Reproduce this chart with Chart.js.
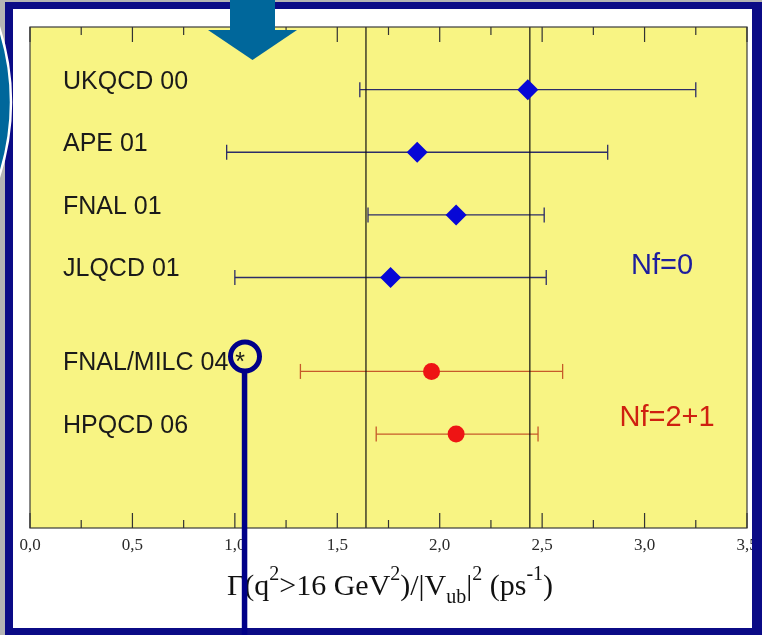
<!DOCTYPE html>
<html><head><meta charset="utf-8">
<script src="https://cdn.jsdelivr.net/npm/chart.js@4.4.1/dist/chart.umd.min.js"></script>
<style>html,body{margin:0;padding:0;background:#fff;overflow:hidden}canvas{display:block}</style>
</head><body>
<canvas id="c" width="762" height="635"></canvas>
<script>
// ---- data ----
const studies  = ['UKQCD 00', 'APE 01', 'FNAL 01', 'JLQCD 01', 'FNAL/MILC 04 *', 'HPQCD 06'];
const rowPos   = [7, 6, 5, 4, 2.5, 1.5];
const central  = [2.43, 1.89, 2.08, 1.76, 1.96, 2.08];
const lower    = [1.61, 0.96, 1.65, 1.00, 1.32, 1.69];
const upper    = [3.25, 2.82, 2.51, 2.52, 2.60, 2.48];
const flavour  = ['0', '0', '0', '0', '2+1', '2+1'];
const refLines = [1.64, 2.44];
const groupLabels = ['Nf=0', 'Nf=2+1'];
const xTickStep = 0.5, xMinorStep = 0.25, xMin = 0, xMax = 3.5, yMin = 0, yMax = 8;

// ---- styles ----
const COL = {
  '0':   {mark: '#0707d6', bar: '#2c2c68', text: '#1d1d9e', style: 'rectRot', r: 10.5},
  '2+1': {mark: '#ee1414', bar: '#c65a2a', text: '#cf2010', style: 'circle', r: 8.5}
};

const datasets = [];
['0', '2+1'].forEach(g => {
  const pts = [];
  central.forEach((v, i) => { if (flavour[i] === g) pts.push({x: v, y: rowPos[i]}); });
  datasets.push({
    label: 'Nf=' + g, data: pts, order: 0,
    pointStyle: COL[g].style, pointRadius: COL[g].r, pointHoverRadius: COL[g].r,
    backgroundColor: COL[g].mark, borderColor: COL[g].mark, pointBorderWidth: 0
  });
});
studies.forEach((s, i) => {
  const c = COL[flavour[i]].bar;
  datasets.push({
    label: s + ' err', order: 2, showLine: true,
    data: [{x: lower[i], y: rowPos[i]}, {x: upper[i], y: rowPos[i]}],
    borderColor: c, borderWidth: 1.3,
    pointStyle: 'line', rotation: 90, pointRadius: 7.5, pointHoverRadius: 7.5,
    pointBorderColor: c, pointBorderWidth: 1.3, backgroundColor: c
  });
});
refLines.forEach(v => {
  datasets.push({
    label: 'ref ' + v, order: 1, showLine: true,
    data: [{x: v, y: yMin}, {x: v, y: yMax}],
    borderColor: '#111', borderWidth: 1.2, pointRadius: 0, pointHoverRadius: 0
  });
});

const deco = {
  id: 'deco',
  beforeDraw(chart) {
    const {ctx, chartArea: a} = chart;
    ctx.save();
    ctx.fillStyle = '#b4b4b4'; ctx.fillRect(0, 0, 762, 635);
    ctx.fillStyle = '#ffffff'; ctx.fillRect(13, 9, 739, 619);
    ctx.fillStyle = '#f8f483'; ctx.fillRect(a.left, a.top, a.right - a.left, a.bottom - a.top);
    ctx.restore();
  },
  afterDatasetsDraw(chart) {
    const {ctx, chartArea: a, scales: {x, y}} = chart;
    ctx.save();
    ctx.strokeStyle = '#3a3a3a'; ctx.lineWidth = 1.2;
    ctx.strokeRect(a.left, a.top, a.right - a.left, a.bottom - a.top);
    ctx.lineWidth = 1.2; ctx.strokeStyle = '#333';
    const n = Math.round((xMax - xMin) / xMinorStep);
    for (let k = 0; k <= n; k++) {
      const v = xMin + k * xMinorStep;
      const px = x.getPixelForValue(v);
      const major = Math.abs(v / xTickStep - Math.round(v / xTickStep)) < 1e-6;
      const L = major ? 15 : 8;
      ctx.beginPath();
      ctx.moveTo(px, a.bottom); ctx.lineTo(px, a.bottom - L);
      ctx.moveTo(px, a.top); ctx.lineTo(px, a.top + L);
      ctx.stroke();
    }
    ctx.font = '29px "Liberation Sans", Arial, sans-serif';
    ctx.textAlign = 'center'; ctx.textBaseline = 'middle';
    ctx.fillStyle = COL['0'].text;
    ctx.fillText(groupLabels[0], x.getPixelForValue(3.085), y.getPixelForValue(4.18));
    ctx.fillStyle = COL['2+1'].text;
    ctx.fillText(groupLabels[1], x.getPixelForValue(3.11), y.getPixelForValue(1.76));
    ctx.restore();
  },
  afterDraw(chart) {
    const {ctx} = chart;
    ctx.save();
    const big = '30px "Liberation Serif", "Times New Roman", serif';
    const small = '20px "Liberation Serif", "Times New Roman", serif';
    const parts = [
      ['Γ(q', 0], ['2', -1], ['>16 GeV', 0], ['2', -1], [')/|V', 0], ['ub', 1],
      ['|', 0], ['2', -1], [' (ps', 0], ['-1', -1], [')', 0]
    ];
    let total = 0;
    parts.forEach(p => { ctx.font = p[1] ? small : big; total += ctx.measureText(p[0]).width; });
    let cx = 390 - total / 2; const base = 595;
    ctx.fillStyle = '#111'; ctx.textBaseline = 'alphabetic'; ctx.textAlign = 'left';
    parts.forEach(p => {
      ctx.font = p[1] ? small : big;
      const dy = p[1] === -1 ? -15 : (p[1] === 1 ? 8 : 0);
      ctx.fillText(p[0], cx, base + dy);
      cx += ctx.measureText(p[0]).width;
    });
    ctx.fillStyle = '#0b0b86';
    ctx.fillRect(5, 2, 757, 7);
    ctx.fillRect(5, 2, 8, 633);
    ctx.fillRect(752, 2, 10, 633);
    ctx.fillRect(5, 628, 757, 7);
    ctx.beginPath(); ctx.arc(-230, 102, 241, 0, Math.PI * 2);
    ctx.fillStyle = '#00679b'; ctx.fill();
    ctx.lineWidth = 2.5; ctx.strokeStyle = '#ffffff'; ctx.stroke();
    ctx.fillStyle = '#00679b';
    ctx.fillRect(230, 0, 45, 31);
    ctx.beginPath(); ctx.moveTo(208, 30); ctx.lineTo(297, 30); ctx.lineTo(252.5, 60); ctx.closePath(); ctx.fill();
    ctx.strokeStyle = '#000088'; ctx.lineWidth = 5;
    ctx.beginPath(); ctx.arc(245, 356.5, 14.5, 0, Math.PI * 2); ctx.stroke();
    ctx.fillStyle = '#000088';
    ctx.fillRect(241.8, 371, 5.5, 264);
    ctx.restore();
  }
};

new Chart(document.getElementById('c'), {
  type: 'scatter',
  data: {datasets},
  options: {
    responsive: false, devicePixelRatio: 1, animation: false,
    layout: {padding: {left: 30, top: 27, right: 15, bottom: 0}},
    plugins: {legend: {display: false}, tooltip: {enabled: false}},
    scales: {
      x: {
        type: 'linear', position: 'bottom', min: xMin, max: xMax,
        grid: {display: false, drawTicks: false}, border: {display: false},
        ticks: {
          stepSize: xTickStep, autoSkip: false, padding: 7, color: '#2a2a2a',
          font: {family: '"Liberation Serif", "Times New Roman", serif', size: 17},
          callback: v => v.toFixed(1).replace('.', ',')
        },
        afterFit: s => { s.height = 107; s.paddingLeft = 0; s.paddingRight = 0; }
      },
      y: {
        type: 'linear', position: 'left', min: yMin, max: yMax,
        grid: {display: false, drawTicks: false}, border: {display: false},
        afterBuildTicks: s => { s.ticks = rowPos.map(v => ({value: v})); },
        ticks: {
          mirror: true, padding: 33, labelOffset: -8, autoSkip: false, color: '#1a1a1a',
          font: {family: '"Liberation Sans", Arial, sans-serif', size: 25},
          callback: v => studies[rowPos.indexOf(v)]
        },
        afterFit: s => { s.width = 0; s.paddingTop = 0; s.paddingBottom = 0; }
      }
    }
  },
  plugins: [deco]
});
</script>
</body></html>
